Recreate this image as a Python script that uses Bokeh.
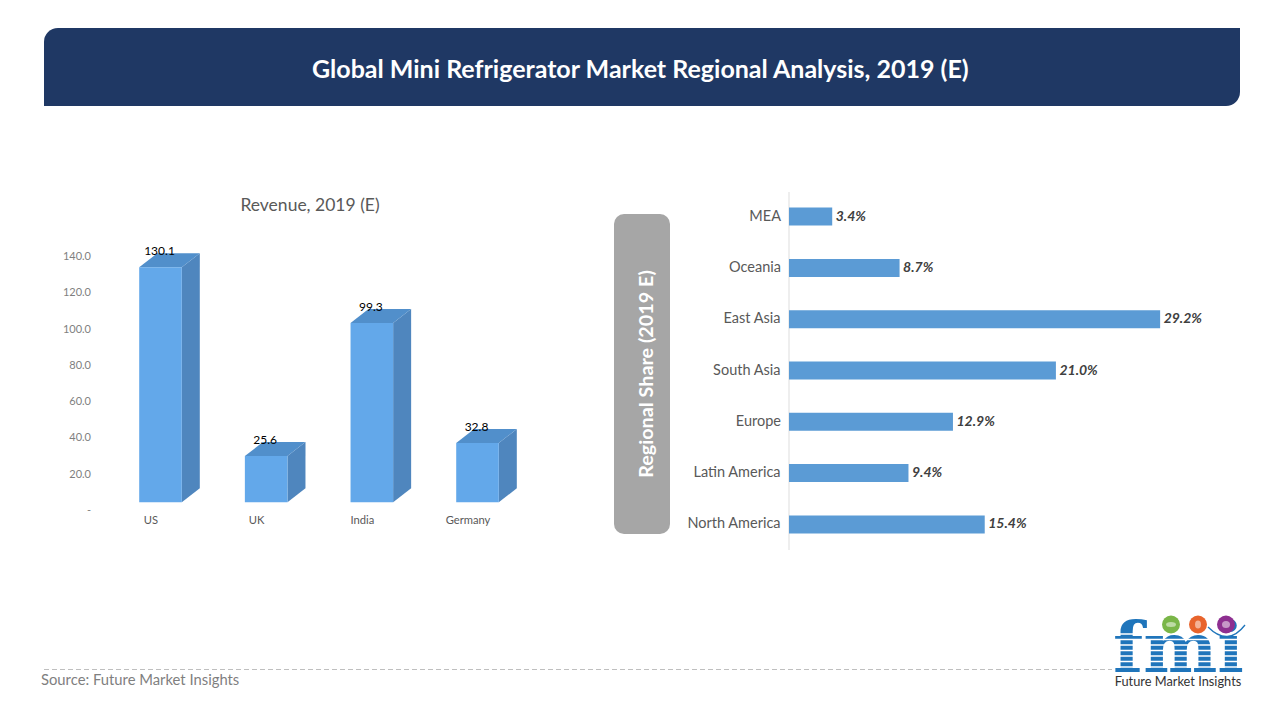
from bokeh.embed import file_html
from bokeh.resources import INLINE
from bokeh.plotting import figure
from bokeh.core.properties import value
from bokeh.models import Range1d, BoxAnnotation
import numpy as np

# ---- data ----
revenue_categories = ["US", "UK", "India", "Germany"]
revenue_values = [130.1, 25.6, 99.3, 32.8]
revenue_ticks = [0, 20, 40, 60, 80, 100, 120, 140]
revenue_tick_labels = ["-", "20.0", "40.0", "60.0", "80.0", "100.0", "120.0", "140.0"]
share_categories = ["MEA", "Oceania", "East Asia", "South Asia", "Europe", "Latin America", "North America"]
share_values = [3.4, 8.7, 29.2, 21.0, 12.9, 9.4, 15.4]
share_labels = ["3.4%", "8.7%", "29.2%", "21.0%", "12.9%", "9.4%", "15.4%"]

FV = value("Lato")
W, H = 1280, 720
X0, X1, Y0, Y1 = 0.5, W + 0.5, H + 0.5, 0.5   # screenshot pixels at frame edges


def rng(a0, a1, p, per):
    """Range mapping frame edges a0..a1 so value 0 is at pixel p, with per px/unit."""
    return Range1d((a0 - p) / per, (a1 - p) / per)


p = figure(width=W, height=H, output_backend="svg", toolbar_location=None,
           x_range=Range1d(X0, X1), y_range=Range1d(Y0, Y1),
           x_axis_type=None, y_axis_type=None, min_border=0,
           outline_line_color=None, background_fill_color="white", border_fill_color="white")
p.grid.visible = False

# scales
p.extra_x_ranges["rev_x"] = rng(X0, X1, 160.5, 105.67)
p.extra_x_ranges["rev_lab"] = rng(X0, X1, 151, 105.67)
p.extra_y_ranges["rev_y"] = Range1d((502.3 - Y0) / 1.806, (502.3 - Y1) / 1.806)
p.extra_y_ranges["rev_axis"] = Range1d((510.0 - Y0) / 1.814, (510.0 - Y1) / 1.814)
p.extra_x_ranges["share_x"] = rng(X0, X1, 789, 12.71)
p.extra_y_ranges["share_y"] = rng(Y0, Y1, 216.6, 51.3)

# header
p.add_layout(BoxAnnotation(left=44, right=1240, top=28, bottom=106, fill_color="#1F3864", fill_alpha=1,
                           line_color=None, border_radius=(14, 0, 14, 0), level="underlay"))
p.text([641], [68], text=["Global Mini Refrigerator Market Regional Analysis, 2019 (E)"],
       text_font=FV, text_font_style="bold", text_font_size="25px", text_color="white",
       text_align="center", text_baseline="middle")

# left chart
p.text([310], [204.5], text=["Revenue, 2019 (E)"], text_font=FV, text_font_size="17.5px",
       text_color="#595959", text_align="center", text_baseline="middle")
idx = np.arange(len(revenue_values), dtype=float)
vals = np.array(revenue_values)
half = 21.3 / 105.67
dx = 18 / 105.67
dy = 14 / 1.806
side_xs = [[i + half, i + half + dx, i + half + dx, i + half] for i in idx]
side_ys = [[0, dy, v + dy, v] for v in vals]
top_xs = [[i - half, i + half, i + half + dx, i - half + dx] for i in idx]
top_ys = [[v, v, v + dy, v + dy] for v in vals]
p.patches(side_xs, side_ys, fill_color="#4F86BE", line_color=None, x_range_name="rev_x", y_range_name="rev_y")
p.patches(top_xs, top_ys, fill_color="#518FCB", line_color=None, x_range_name="rev_x", y_range_name="rev_y")
p.vbar(x=idx, top=vals, bottom=0, width=2 * half, fill_color="#63A8EA", line_color=None,
       x_range_name="rev_x", y_range_name="rev_y")
p.text(idx - 1 / 105.67, vals, text=[f"{v:.1f}" for v in vals], x_range_name="rev_x", y_range_name="rev_y",
       y_offset=-16, text_font=FV, text_font_size="12px", text_color="#000000",
       text_align="center", text_baseline="middle")

# left axis labels
p.text([91] * len(revenue_ticks), revenue_ticks, text=revenue_tick_labels, y_range_name="rev_axis",
       text_font=FV, text_font_size="11px", text_color="#7F7F7F", text_align="right", text_baseline="middle")
p.text(idx, [0] * len(idx), text=revenue_categories, x_range_name="rev_lab", y_range_name="rev_y",
       y_offset=17, text_font=FV, text_font_size="11.2px", text_color="#595959",
       text_align="center", text_baseline="middle")

# right chart
p.add_layout(BoxAnnotation(left=614, right=670, top=214, bottom=534, fill_color="#A6A6A6", fill_alpha=1,
                           line_color=None, border_radius=10, level="underlay"))
p.text([645], [374], text=["Regional Share (2019 E)"], angle=np.pi / 2, text_font=FV, text_font_style="bold",
       text_font_size="19.8px", text_color="white", text_align="center", text_baseline="middle")
p.segment([789], [192], [789], [550], line_color="#DDDDDD", line_width=1)
rows = np.arange(len(share_values), dtype=float)
p.hbar(y=rows, left=0, right=share_values, height=18 / 51.3, fill_color="#5B9BD5", line_color=None,
       x_range_name="share_x", y_range_name="share_y")
p.text(share_values, rows, text=share_labels, x_range_name="share_x", y_range_name="share_y", x_offset=3.5,
       y_offset=-1.5, text_font=FV, text_font_style="bold italic", text_font_size="14px", text_color="#404040",
       text_align="left", text_baseline="middle")
p.text([0] * len(rows), rows, text=share_categories, x_range_name="share_x", y_range_name="share_y", x_offset=-8,
       y_offset=-1.5, text_font=FV, text_font_size="14.5px", text_color="#595959",
       text_align="right", text_baseline="middle")

# footer
p.segment([44], [669.5], [1112], [669.5], line_color="#BFBFBF", line_width=1.2, line_dash="5 3")
p.text([41], [678.5], text=["Source: Future Market Insights"], text_font=FV, text_font_size="14.8px",
       text_color="#7F7F7F", text_align="left", text_baseline="middle")

# logo
p.text([1178.5], [647], text=["fmi"], text_font=value("DejaVu Serif"), text_font_style="bold", text_font_size="70px",
       text_color="#1F75BB", text_align="center", text_baseline="alphabetic")
for sy in [634, 639.5, 645, 650.5, 656, 661.5, 667]:
    p.segment([1112], [sy], [1245], [sy], line_color="white", line_width=1.3)
p.scatter([1171, 1198, 1226], [624.5, 624.5, 624.5], size=18,
          fill_color=["#7AB648", "#E8642C", "#8E2F90"], line_color=None)
p.ellipse([1171, 1198, 1226], [624.5, 624.5, 624.5], width=[10, 6, 8], height=[5, 8, 7],
          fill_color="white", fill_alpha=0.5, line_color=None)
p.quadratic(x0=[1208], y0=[627], x1=[1245], y1=[625], cx=[1228], cy=[647], line_color="#1F75BB", line_width=1.3)
p.text([1178], [681], text=["Future Market Insights"], text_font=FV, text_font_size="12.8px",
       text_color="#333333", text_align="center", text_baseline="middle")

open("out.html", "w").write(file_html(p, INLINE))
